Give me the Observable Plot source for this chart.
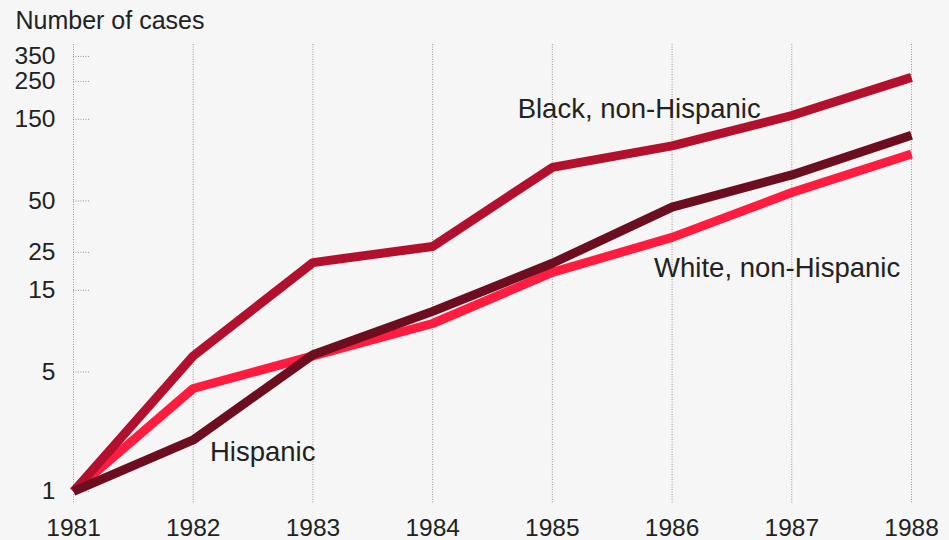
<!DOCTYPE html>
<html>
<head>
<meta charset="utf-8">
<script src="https://cdn.jsdelivr.net/npm/d3@7"></script>
<script src="https://cdn.jsdelivr.net/npm/@observablehq/plot@0.6"></script>
<style>
  html, body { margin: 0; padding: 0; background: #f6f6f6; }
</style>
</head>
<body>
<div id="chart"></div>
<script>
const years = [1981, 1982, 1983, 1984, 1985, 1986, 1987, 1988];
const black = [1.0, 6.2, 21.8, 27.1, 78.5, 105, 158, 264];
const hispanic = [1.0, 2.0, 6.3, 11.3, 21.6, 46, 71, 121];
const white = [1.0, 4.0, 6.2, 9.6, 19.1, 30.6, 56, 94];
const yTicks = [1, 5, 15, 25, 50, 150, 250, 350];
const labelNames = ["Black, non-Hispanic", "White, non-Hispanic", "Hispanic"];
const labelYears = [1984.71, 1985.85, 1982.14];
const labelValues = [153, 17.9, 1.5];

const rows = (vals) => years.map((y, i) => ({year: y, value: vals[i]}));
const labels = labelNames.map((t, i) => ({text: t, year: labelYears[i], value: labelValues[i]}));

const font = "'Liberation Sans', Arial, Helvetica, sans-serif";

const chart = Plot.plot({
  width: 949,
  height: 540,
  marginLeft: 73,
  marginRight: 38,
  marginTop: 44,
  marginBottom: 36,
  style: {background: "#f6f6f6", fontFamily: font, color: "#222"},
  x: {domain: [1981, 1988], label: null},
  y: {type: "log", domain: [0.839, 411], label: null},
  marks: [
    Plot.ruleX(years, {stroke: "#9a9494", strokeWidth: 1, strokeDasharray: "1,1.5"}),
    Plot.axisY({ticks: yTicks, tickSize: 16, dx: 16, tickFormat: () => "", stroke: "#9a9494", strokeDasharray: "1,1.5", label: null}),
    Plot.text(yTicks, {y: d => d, frameAnchor: "left", dx: -18, textAnchor: "end", lineAnchor: "middle", text: d => String(d), fontSize: 24.5, fill: "#222"}),
    Plot.axisX({ticks: years, tickSize: 0, tickPadding: 14, tickFormat: d => String(d), fontSize: 24.5, fill: "#222", label: null}),
    Plot.line(rows(white), {x: "year", y: "value", stroke: "#ff1c3e", strokeWidth: 9, strokeLinejoin: "miter", strokeLinecap: "butt"}),
    Plot.line(rows(black), {x: "year", y: "value", stroke: "#b3102e", strokeWidth: 9, strokeLinejoin: "miter", strokeLinecap: "butt"}),
    Plot.line(rows(hispanic), {x: "year", y: "value", stroke: "#6c0e1f", strokeWidth: 9, strokeLinejoin: "miter", strokeLinecap: "butt"}),
    Plot.text(labels, {x: "year", y: "value", text: "text", textAnchor: "start", lineAnchor: "bottom", fontSize: 27.5, fill: "#222"}),
    Plot.text(["Number of cases"], {frameAnchor: "top-left", dx: -58, dy: -16, textAnchor: "start", lineAnchor: "bottom", fontSize: 25, fill: "#222"})
  ]
});
document.getElementById("chart").appendChild(chart);
</script>
</body>
</html>
